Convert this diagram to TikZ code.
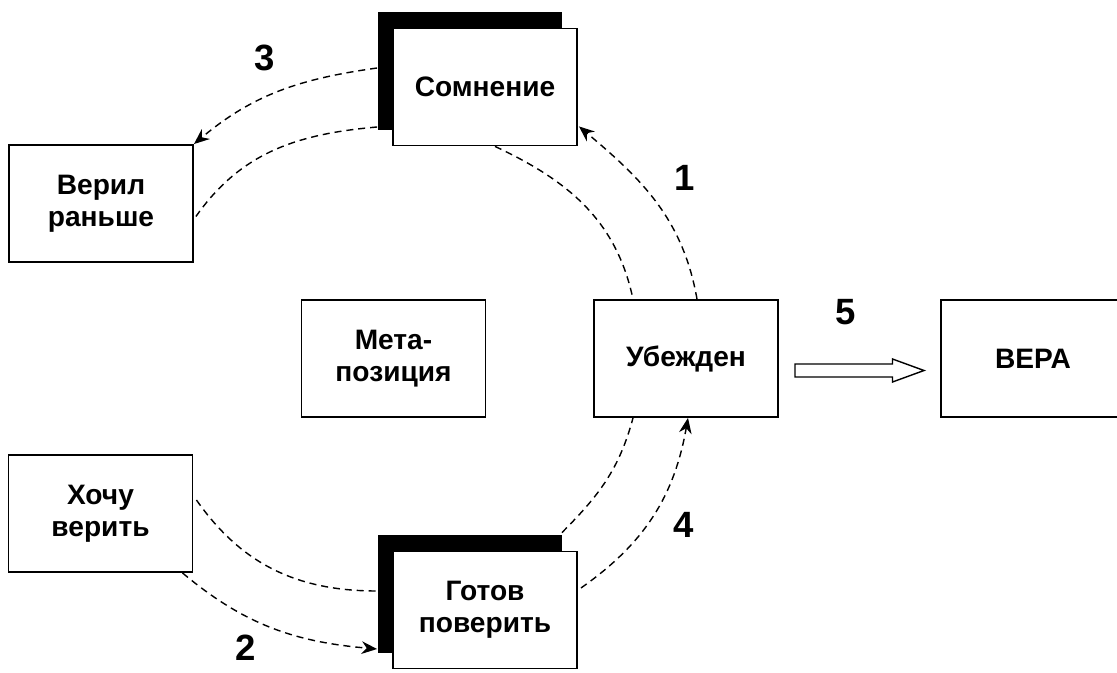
\documentclass[tikz,border=0pt]{standalone}
\usepackage{fontspec}
\setmainfont{Liberation Sans}
\usetikzlibrary{arrows.meta,calc,shadows}

\begin{document}
\begin{tikzpicture}[
  x=0.025cm, y=0.025cm,
  >={Stealth[length=11pt,width=9pt]},
  box/.style={draw, line width=1.3pt, fill=white, minimum width=4.6cm, minimum height=2.925cm,
              inner sep=2pt, align=center, font=\fontsize{20}{22.5}\selectfont\bfseries},
  shadowbox/.style={box, general shadow={fill=black, shadow xshift=-0.375cm, shadow yshift=0.4cm}},
  flow/.style={line width=1pt, dash pattern=on 5pt off 3.5pt},
  flowarr/.style={flow, ->},
  num/.style={font=\fontsize{26}{30}\selectfont\bfseries, inner sep=1pt},
]
\useasboundingbox (0,0) rectangle (1117,672);

% ===== States =====
\node[shadowbox] (somn) at (485,585) {Сомнение};
\node[box] (veril) at (101,468.5) {Верил\\раньше};
\node[box] (meta) at (393.5,313.5) {Мета-\\позиция};
\node[box] (ubezh) at (686,313.5) {Убежден};
\node[box] (vera) at (1033,313.5) {ВЕРА};
\node[box] (hochu) at (100.5,158.5) {Хочу\\верить};
\node[shadowbox] (gotov) at (485,62) {Готов\\поверить};

% ===== Step numbers =====
\node[num] (n1) at (685,494) {1};
\node[num] (n2) at (246,24) {2};
\node[num] (n3) at (265,614) {3};
\node[num] (n4) at (684,147) {4};
\node[num] (n5) at (846,360) {5};

% ===== Upper cycle =====
\draw[flowarr] ($(somn.west)+(-15,19)$) to[out=188, in=40] (veril.north east);
\draw[flow] ($(somn.west)+(-15,-40)$) to[out=185, in=55] ($(veril.east)+(2,-13)$);
\draw[flow] ($(somn.south)+(10,0)$) to[out=-25, in=102] ($(ubezh.north)+(-53,0)$);
\draw[flowarr] ($(ubezh.north)+(11,0)$) to[out=100, in=-40] ($(somn.south east)+(1,20)$);

% ===== Lower cycle =====
\draw[flowarr] ($(hochu.south)+(82,0)$) to[out=-40, in=175] ($(gotov.west)+(-15,-39)$);
\draw[flow] ($(hochu.east)+(3,13.5)$) to[out=-55, in=180] ($(gotov.west)+(-15,19)$);
\draw[flow] ($(gotov.north east)+(-16,18)$) to[out=45, in=-105] ($(ubezh.south)+(-53,0)$);
\draw[flowarr] ($(gotov.east)+(3,22)$) to[out=35, in=-100] ($(ubezh.south)+(2,0)$);

% ===== Step 5: hollow arrow =====
\coordinate (a5) at ($(ubezh.east)!0.5!(vera.west)+(0,-12)$);
\draw[line width=1pt] (a5) ++(-64.5,6.5) -- ++(97.5,0) -- ++(0,5) -- ++(31.5,-11.5)
  -- ++(-31.5,-11.5) -- ++(0,5) -- ++(-97.5,0) -- cycle;

\end{tikzpicture}
\end{document}
